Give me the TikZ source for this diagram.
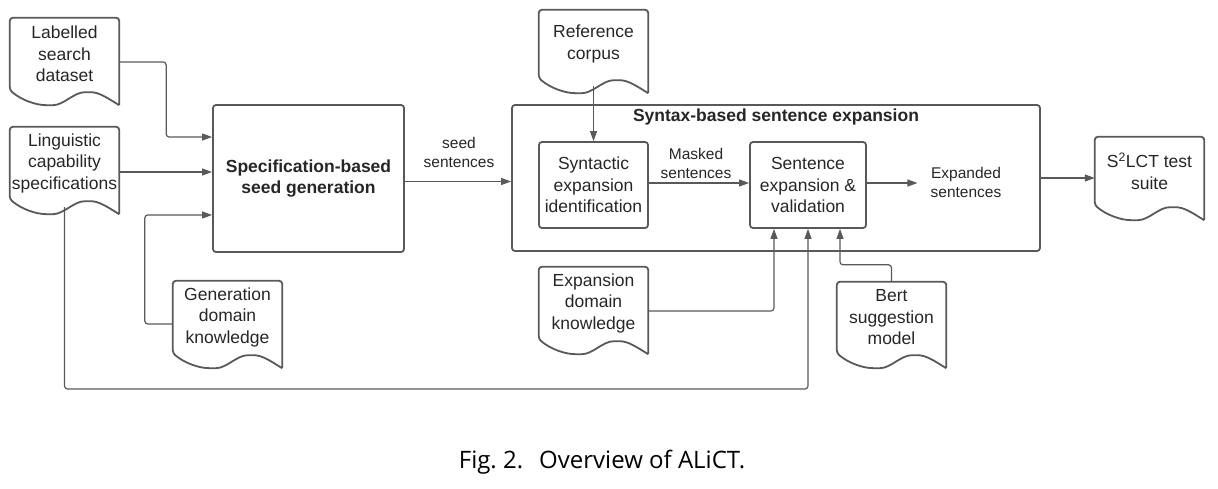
\documentclass[tikz,border=0pt]{standalone}
\usepackage{fontspec}
\setmainfont{Liberation Sans}
\newfontfamily\capfont{Open Sans}
\usetikzlibrary{arrows.meta,calc}

\definecolor{linegray}{HTML}{595959}
\definecolor{textgray}{HTML}{262626}

\tikzset{
    base/.style={font=\fontsize{17.5}{21.5}\selectfont, text=textgray, align=center, inner sep=0pt},
    docu/.style={base, minimum width=109, minimum height=72},
    box/.style={base, draw=linegray, line width=1.8pt, rounded corners=3pt},
    lbl/.style={font=\fontsize{15.5}{19}\selectfont, text=textgray, align=center},
    arr/.style={draw=linegray, line width=1.2pt, rounded corners=3pt, -{Triangle[length=10pt,width=7pt]}},
    conn/.style={draw=linegray, line width=1.2pt, rounded corners=3pt}
}

% outline of a document shape round a node, with a wave below it
\newcommand{\docoutline}[1]{%
    \draw[draw=linegray, line width=1.8pt, rounded corners=3pt, line join=round]
        ([yshift=-15]#1.south east) -- (#1.north east) -- (#1.north west) -- (#1.south west)
        .. controls +(12,-10) and +(-14,0) .. ([xshift=40,yshift=-15]#1.south west)
        .. controls +(14,0) and +(-14,0) .. ([xshift=78,yshift=-2]#1.south west)
        .. controls +(12,0) and +(-10,6) .. ([yshift=-15]#1.south east);
}

\begin{document}
\begin{tikzpicture}[x=1pt,y=1pt]
    \useasboundingbox (0,0) rectangle (1218,-489);

    % inputs on the left
    \node[docu] (lab) at (64.5,-54) {Labelled\\search\\dataset};
    \node[docu] (ling) at (64.5,-163) {Linguistic\\capability\\specifications};
    \node[docu] (gen) at (227.5,-317) {Generation\\domain\\knowledge};
    \docoutline{lab}
    \docoutline{ling}
    \docoutline{gen}

    \node[box, minimum width=191, minimum height=147, font=\fontsize{17.5}{21.5}\selectfont\bfseries]
        (spec) at (308.5,-178.5) {Specification-based\\seed generation};

    % expansion part
    \node[box, minimum width=528, minimum height=146] (outer) at (776,-178) {};
    \node[base, font=\fontsize{17.5}{21.5}\selectfont\bfseries] (title) at (776,-117) {Syntax-based sentence expansion};

    \node[docu, minimum height=68] (ref) at (593.5,-44) {Reference\\corpus};
    \node[box, minimum width=109, minimum height=86] (syn) at (593.5,-185) {Syntactic\\expansion\\identification};
    \node[box, minimum width=116, minimum height=86] (sent) at (808,-185) {Sentence\\expansion \&\\validation};
    \docoutline{ref}

    \node[docu] (exp) at (593.5,-303) {Expansion\\domain\\knowledge};
    \node[docu, minimum height=71] (bert) at (891.5,-317.5) {Bert\\suggestion\\model};
    \node[docu, minimum height=68] (suite) at (1149.5,-171) {S\textsuperscript{2}LCT test\\suite};
    \docoutline{exp}
    \docoutline{bert}
    \docoutline{suite}

    % labels on connectors
    \node[lbl] (seed) at (459,-152) {seed\\sentences};
    \node[lbl] (masked) at (696,-163.5) {Masked\\sentences};
    \node[lbl, inner sep=0pt] (expd) at (966,-182) {Expanded\\sentences};

    % connectors
    \draw[arr] ([yshift=-8]lab.east) -- ++(47,0) |- ([yshift=41.5]spec.west);
    \draw[arr] ([yshift=-9]ling.east) -- ([yshift=6.5]spec.west);
    \draw[arr] ([yshift=-7]gen.west) -- ++(-28,0) |- ([yshift=-36.5]spec.west);
    \draw[arr] ([yshift=-3]spec.east) -- ([yshift=-3]spec.east -| outer.west);

    \draw[arr] ([yshift=-8]ref.south) -- (syn.north);
    \draw[arr] ([yshift=2]syn.east) -- ([yshift=2]sent.west);
    \draw[arr, shorten >=13pt] ([yshift=2]sent.east) -- ([yshift=2]sent.east -| expd.west);
    \draw[arr] (outer.east) -- (outer.east -| suite.west);

    \coordinate (loop) at (64.5,-389);
    \draw[arr] ([yshift=-8]ling.south) -- (loop) -| (sent.south);
    \draw[arr] ([yshift=-8]exp.east) -| ([xshift=-34]sent.south);
    \draw[arr] (bert.north) -- ++(0,17) -| ([xshift=32]sent.south);

    % caption
    \node[font=\capfont\fontsize{24}{27}\selectfont, inner sep=0pt] (cap) at (602,-462) {Fig.~2.\hspace{16pt}Overview of ALiCT.};
\end{tikzpicture}
\end{document}
